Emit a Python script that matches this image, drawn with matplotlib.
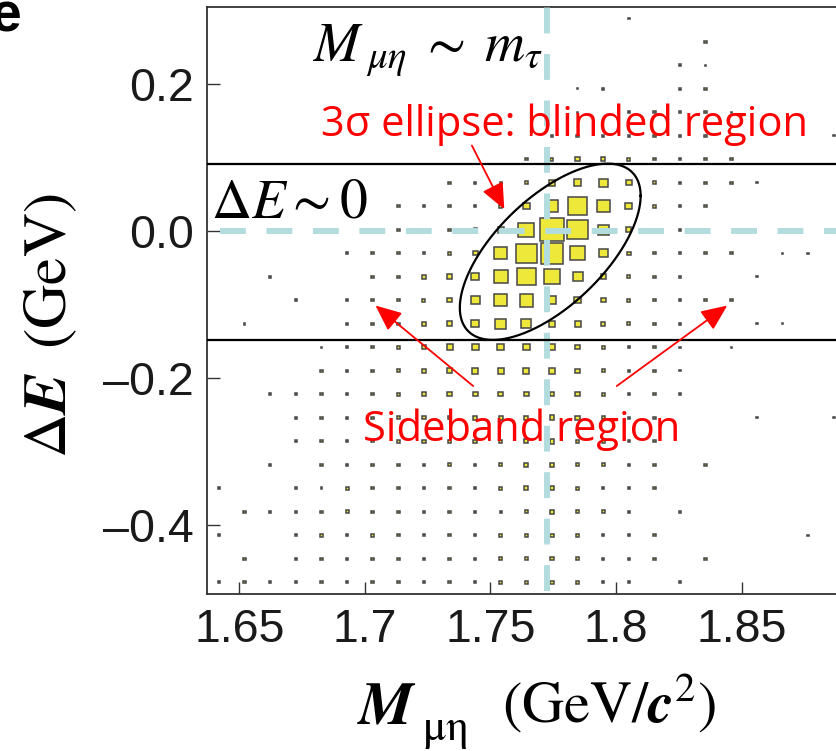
import numpy as np
import matplotlib
matplotlib.use('Agg')
import matplotlib.pyplot as plt
from matplotlib.patches import Rectangle

plt.rcParams['mathtext.fontset'] = 'stix'

# binning of the 2D histogram: M(mu eta) on x, Delta E on y
mass_edges = np.linspace(1.6368, 1.8918, 26)
de_edges = np.linspace(-0.494, 0.306, 26)

# bin contents, first row is the highest Delta E bin, columns go up in mass
counts = [
    [0, 0, 0, 0, 0, 0, 0, 0, 0, 0, 0, 0, 0, 0, 0, 0, .4, 0, 0, 0, 0, 0, 0, 0, 0],
    [0, 0, 0, 0, 0, 0, 0, 0, 0, 0, 0, 0, 0, 0, 0, 0, 0, 0, 0, 1, 0, 0, 0, 0, 0],
    [0, 0, 0, 0, 0, 0, 0, 0, 0, 0, 0, 0, 0, 0, 0, 0, 0, 0, 1, .4, 0, 0, 0, 0, 0],
    [0, 0, 0, 0, 0, 0, 0, 0, 0, 0, 0, 0, 0, 0, .4, 1, 0, 0, 1, 1, 0, 0, 0, 0, 0],
    [0, 0, 0, 0, 0, 0, 0, 0, 0, 0, 0, 0, 0, 0, .4, 0, 1, 1, 1, 1, .4, 0, 0, 0, 0],
    [0, 0, 0, 0, 0, 0, 0, 0, 0, 0, 0, 0, 0, 1, 1, 1, 1, 1, 1, 1, 0, 0, 0, 0, .4],
    [0, 0, 0, 0, 0, 0, 0, 0, 0, 0, 0, 0, 1, 1.5, 3, 3, 1.5, 1, 1, 1, 1, 0, 0, 0, 0],
    [0, 0, 0, 0, 0, 0, 0, 0, 0, 1, 1, 1, 1.5, 8, 10, 14, 6, 1.5, 1, 1, 1, .4, 0, 0, 0],
    [0, 0, 0, 0, 0, 0, 0, 1, 1, 1, 1, 1.5, 8, 27, 64, 27, 8, 2, 1, 1, 0, 0, 0, 0, 0],
    [0, 0, 0, 0, 0, 0, 0, 1, .4, 1, 1.5, 6, 41, 100, 71, 19, 4, 1, 1, 0, 0, 0, 0, 0, 0],
    [0, 0, 0, 0, 0, 1, 1, 1, 1, 1.5, 4, 26, 71, 85, 36, 13, 2, 1, 1, 1, 1, 0, .4, .4, 0],
    [0, 0, .5, 0, 0, 0, 1, 1, 3, 4, 10, 31, 58, 46, 16, 4, 1.5, 1, 1, 0, 0, .4, 0, 0, 0],
    [0, 0, 0, .5, 0, 1, 1, 1, 1.5, 4, 13, 27, 31, 13, 8, 4, 1.5, 1, 1, 1, 1, 0, 0, 0, 0],
    [0, .5, 0, 0, 0, 1, 1, 1, 3, 4, 10, 19, 16, 8, 6, 3, 1.5, 1, 1, 0, 0, .4, .4, 0, 0],
    [0, 0, 0, 0, .4, 1, 1, 1.5, 3, 6, 8, 8, 8, 6, 3, 1.5, 1, 1, .4, 0, .4, 0, 0, 0, 0],
    [0, 0, 0, 0, 1, 1, 1, 1.5, 3, 4, 6, 6, 6, 6, 3, 1.5, 1, 1, .4, 0, 0, 0, 0, 0, 0],
    [0, 0, 1, 1, 1, 1, 1, 1.5, 3, 3, 4, 4, 4, 4, 3, 1.5, 1, 1, 1, 0, 0, 0, 0, 0, 0],
    [0, 0, 0, 1, 1, 1, 1, 1.5, 2, 2, 3, 3, 3, 4, 3, 1.5, 1, 1, 0, 0, 0, .4, 0, 0, .4],
    [0, 0, 0, 1, 1, 1, 1, 1.5, 2, 2, 2, 2, 3, 4, 2, 1.5, 1, 1, 0, 0, 0, 0, 0, 0, 0],
    [0, 0, 1, 0, 1, 1, 1, 1, 1, 1.5, 1, 1.5, 3, 3, 2, 1.5, 1, 1, 0, 1, 0, 0, 0, 0, 0],
    [1, 0, 0, 1, .5, 1.5, 1, 1, 1, 1, 1, 1.5, 3, 3, 1.5, 1, 1, 1, 0, 0, 0, 0, 0, 0, 0],
    [0, 1, 1, 1, 1, 1.5, 1, 1, 1, 1, 1, 1, 1.5, 3, 1.5, 1.5, .5, 0, 1, 0, 0, 0, 0, 0, 0],
    [1, 0, 0, 1, 1.5, 1, 1.5, 1, 1, 1, 1, 1.5, 1.5, 2, 1.5, 1, 1, 1, 0, 0, 0, 0, 0, .4, 0],
    [0, 1, 0, 1, 1, 1, 1, 1, 1, 1, 1, 1.5, 2, 2, 1.5, 1, 1, 1, 0, 1, 0, 0, 0, 0, 0],
    [1, 1, .5, 1, 1, 1, 1, 1, 1, 1, 1, 1.5, 2, 2, 1.5, 1, .5, 0, .5, 0, 0, 0, 0, 0, 0],
]

# signal box in Delta E and the tau mass line
band_lo, band_hi = -0.148, 0.092
tau_mass = 1.7727
# 3 sigma ellipse: centre, half widths and correlation
ell_center = (1.7738, -0.028)
ell_half = (0.036, 0.120)
ell_rho = 0.635

mass_ticks = [1.65, 1.7, 1.75, 1.8, 1.85]
mass_ticklabels = ['1.65', '1.7', '1.75', '1.8', '1.85']
de_ticks = [0.2, 0.0, -0.2, -0.4]
de_ticklabels = ['0.2', '0.0', '\u20130.2', '\u20130.4']

W, H = 837, 751
fig = plt.figure(figsize=(W / 100, H / 100), dpi=100)
ax = fig.add_axes([206.7 / W, 1 - 594 / H, (W - 206.7) / W, (594 - 6.7) / H])
ax.set_xlim(1.637, 1.888)
ax.set_ylim(-0.494, 0.3057)

# box plot: box area proportional to bin content
cnt = np.array(counts, dtype=float)[::-1]
nmax = cnt.max()
xc = 0.5 * (mass_edges[:-1] + mass_edges[1:])
yc = 0.5 * (de_edges[:-1] + de_edges[1:])
bw = mass_edges[1] - mass_edges[0]
bh = de_edges[1] - de_edges[0]
for i in range(len(yc)):
    for j in range(len(xc)):
        n = cnt[i, j]
        if n <= 0:
            continue
        f = 0.96 * np.sqrt(n / nmax)
        w, h = f * bw, f * bh
        ax.add_patch(Rectangle((xc[j] - w / 2, yc[i] - h / 2), w, h,
                               facecolor='#ede83a', edgecolor='#474747',
                               lw=1.1, zorder=2))

# dashed cross at Delta E = 0 and M = m_tau
cross = dict(color='#b3dcdf', lw=4.3, dashes=(4.33, 3.45), zorder=3)
ax.plot([1.6423, 1.888], [0.0, 0.0], **cross)
ax.plot([tau_mass, tau_mass], [-0.4895, 0.3057], **cross)

ax.axhline(band_hi, color='black', lw=1.6, zorder=4)
ax.axhline(band_lo, color='black', lw=1.6, zorder=4)

t = np.linspace(0, 2 * np.pi, 400)
ex = ell_center[0] + ell_half[0] * np.cos(t)
ey = ell_center[1] + ell_half[1] * (ell_rho * np.cos(t) + np.sqrt(1 - ell_rho ** 2) * np.sin(t))
ax.plot(ex, ey, color='black', lw=1.6, zorder=4)

ax.text(1.679, 0.231, r'$M_{\;\mu\eta}\;\sim\;m_{\tau}$', fontsize=40,
        ha='left', va='baseline', zorder=5)
ax.text(1.6387, 0.018, r'$\Delta E\sim 0$', fontsize=40,
        ha='left', va='baseline', zorder=5)

red_font = ['Open Sans', 'DejaVu Sans']
ax.text(1.7795, 0.1296, '3\u03c3 ellipse: blinded region', color='red',
        fontsize=30, family=red_font, ha='center', va='baseline', zorder=6)
ax.text(1.7625, -0.285, 'Sideband region', color='red',
        fontsize=30, family=red_font, ha='center', va='baseline', zorder=6)

arrow = dict(arrowstyle='-|>,head_length=0.8,head_width=0.35', mutation_scale=20,
             color='red', lw=1.3, shrinkA=0, shrinkB=0)
ax.annotate('', xy=(1.7555, 0.030), xytext=(1.7426, 0.1167), arrowprops=arrow, zorder=6)
ax.annotate('', xy=(1.7042, -0.1012), xytext=(1.7431, -0.2108), arrowprops=arrow, zorder=6)
ax.annotate('', xy=(1.8443, -0.1012), xytext=(1.8003, -0.2108), arrowprops=arrow, zorder=6)

ax.spines['right'].set_visible(False)
for s in ['left', 'bottom', 'top']:
    ax.spines[s].set_linewidth(1.3)
    ax.spines[s].set_color('#333333')
ax.set_xticks(mass_ticks)
ax.set_xticklabels(mass_ticklabels)
ax.set_yticks(de_ticks)
ax.set_yticklabels(de_ticklabels)
ax.tick_params(direction='in', length=9, width=1, color='#333333',
               labelsize=33.5, labelcolor='#1a1a1a')
ax.tick_params(axis='x', pad=10)
ax.tick_params(axis='y', pad=9)
for lab in ax.get_xticklabels() + ax.get_yticklabels():
    lab.set_family('Liberation Sans')

# axis titles, x title set piece by piece for its wide subscript
fig.text(356.8 / W, 1 - 723 / H, r'$\mathbfit{M}$', fontsize=44,
         ha='left', va='baseline')
fig.text(422 / W, 1 - 740 / H, r'$\mathrm{\mu\eta}$', fontsize=32,
         ha='left', va='baseline')
fig.text(716.6 / W, 1 - 723 / H, r'$\mathrm{(GeV/}\mathbfit{c}^{2}\mathrm{)}$',
         fontsize=42, ha='right', va='baseline')
fig.text(50 / W, 1 - 325.6 / H, r'$\Delta\mathbfit{E}\;\;\mathrm{(GeV)}$',
         fontsize=44, rotation=90, ha='center', va='center')

fig.text(-9 / W, 1 - 32 / H, 'e', fontsize=40, fontweight='bold',
         family='Liberation Sans', ha='left', va='baseline')

fig.savefig('out.png', dpi=100)
